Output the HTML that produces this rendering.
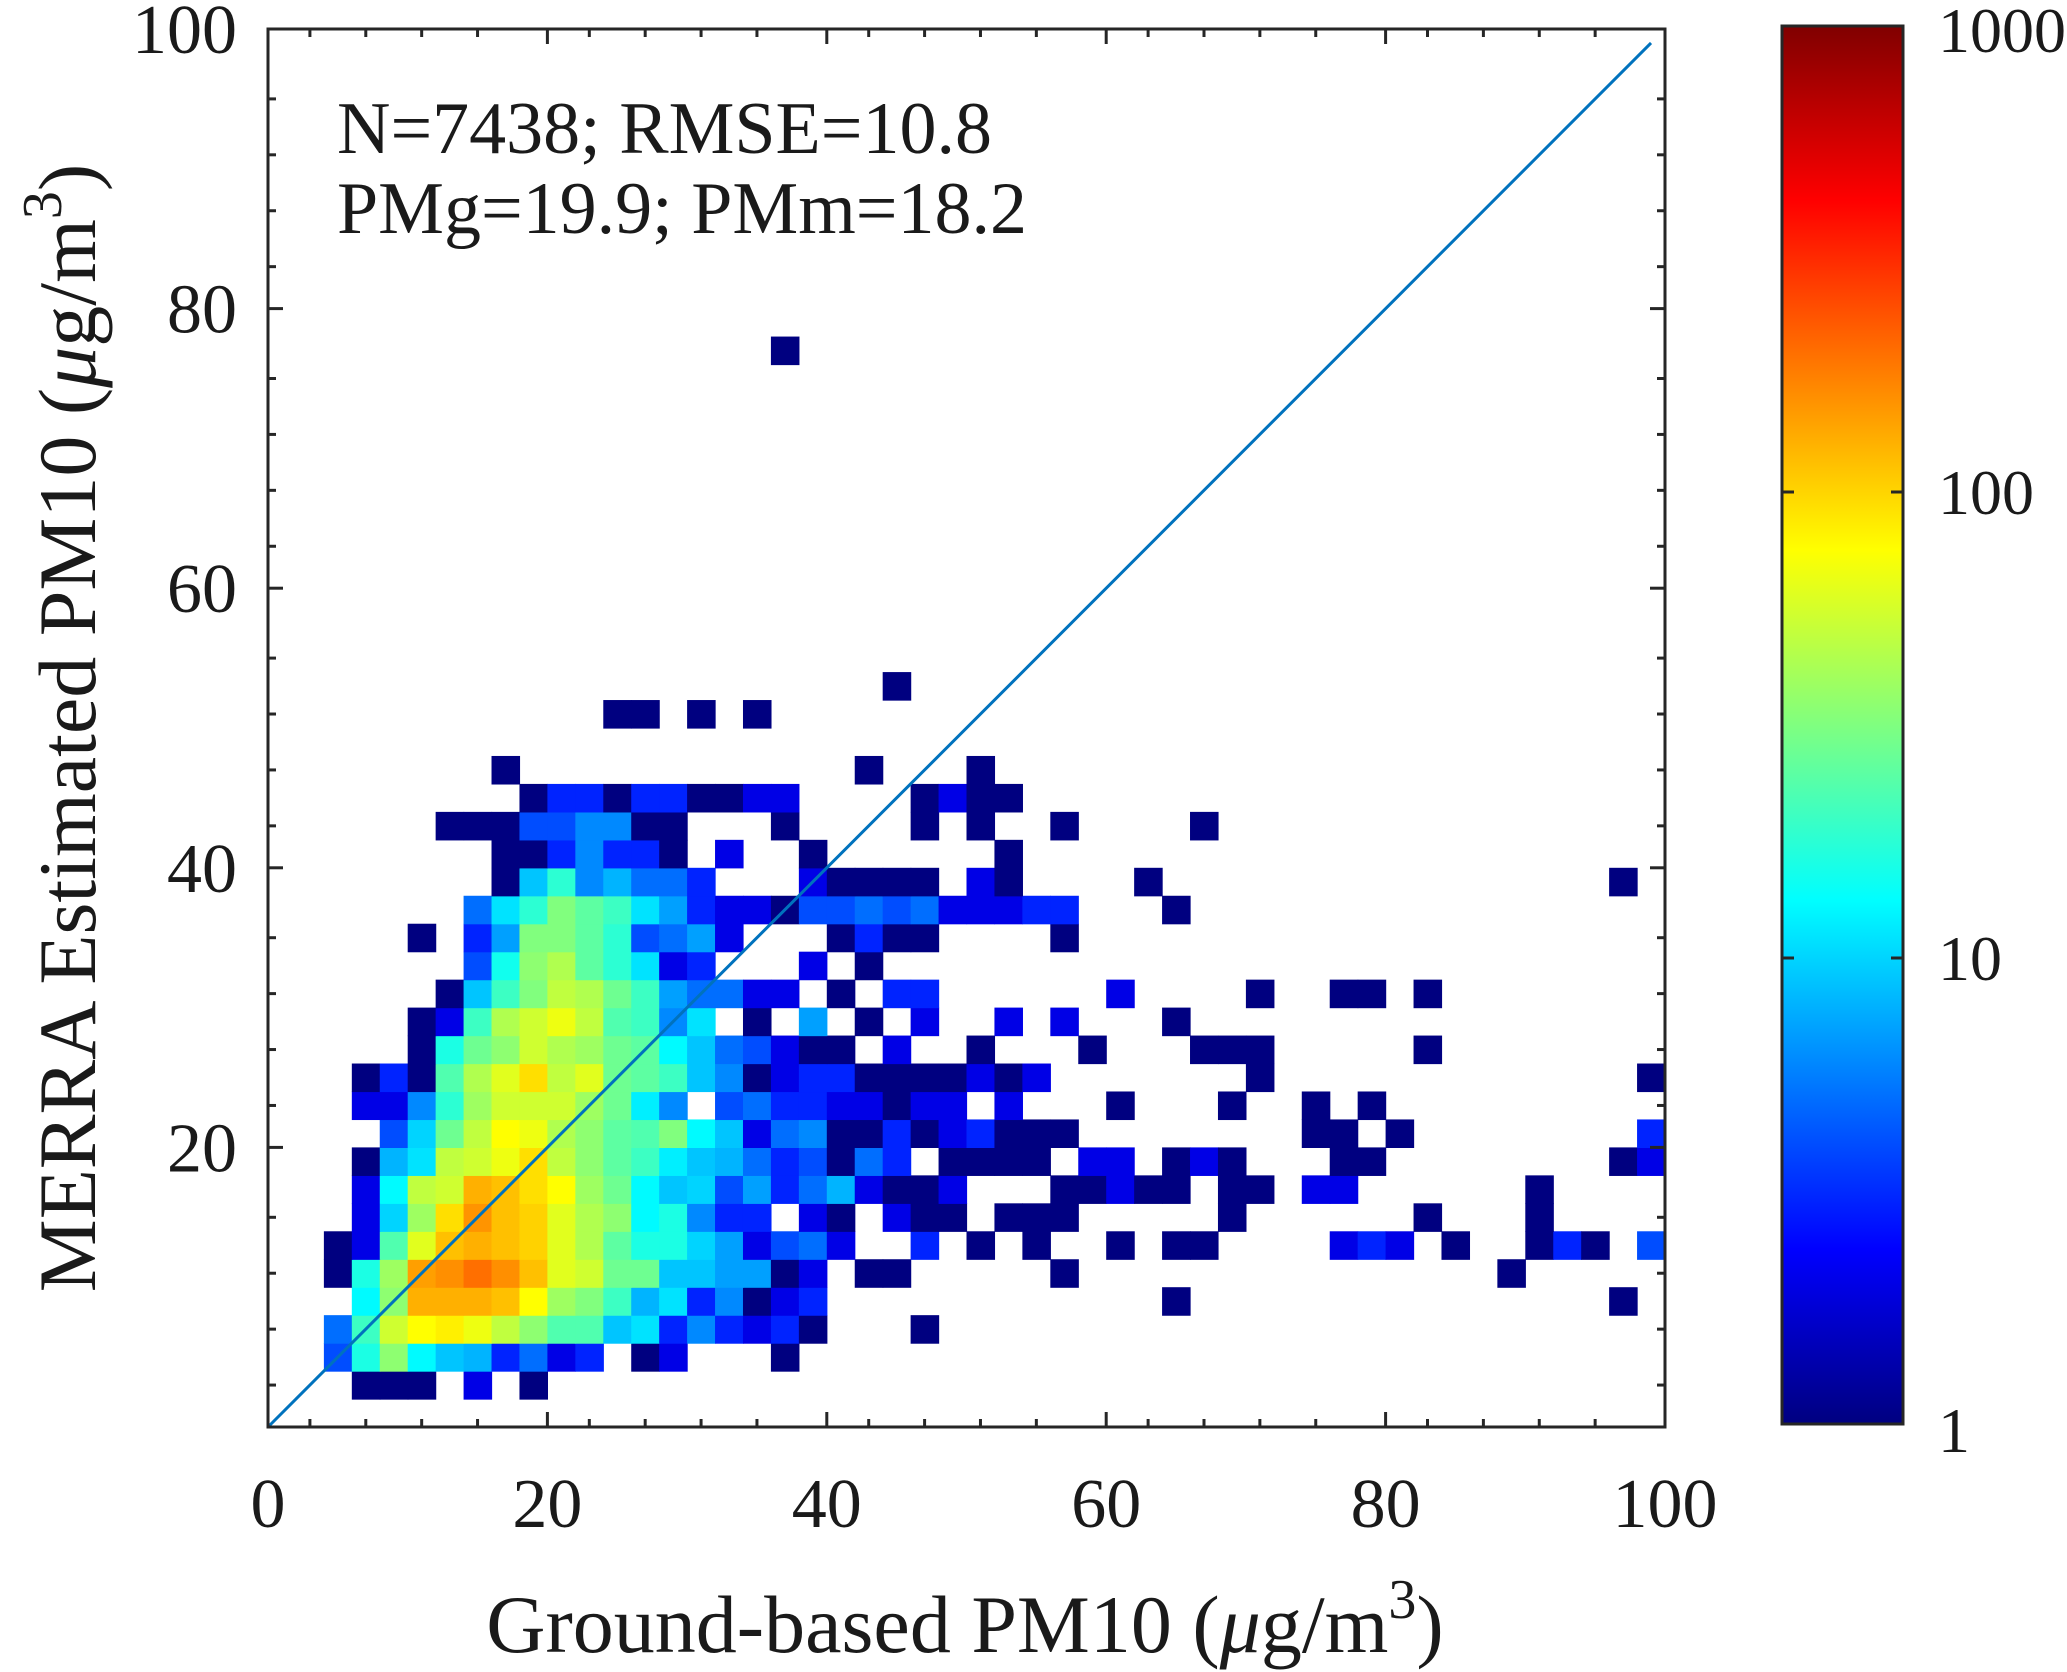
<!DOCTYPE html>
<html><head><meta charset="utf-8"><style>
html,body{margin:0;padding:0;background:#fff;}
svg{display:block;font-family:"Liberation Serif",serif;}
</style></head><body>
<svg id="chart" width="2067" height="1672" viewBox="0 0 2067 1672" xmlns="http://www.w3.org/2000/svg">
<defs>
<linearGradient id="jet" x1="0" y1="1" x2="0" y2="0">
<stop offset="0" stop-color="#000080"/><stop offset="0.125" stop-color="#0000ff"/><stop offset="0.375" stop-color="#00ffff"/><stop offset="0.625" stop-color="#ffff00"/><stop offset="0.875" stop-color="#ff0000"/><stop offset="1" stop-color="#800000"/>
</linearGradient>
</defs>
<rect x="0" y="0" width="2067" height="1672" fill="#fff"/>
<g id="cells"></g>
<line id="diag" stroke="#0072BD" stroke-width="3"/>
<g id="axes"></g>
<text x="337" y="153" font-size="74" fill="#1a1a1a">N=7438; RMSE=10.8</text>
<text x="337" y="233" font-size="74" fill="#1a1a1a">PMg=19.9; PMm=18.2</text>
<text x="965" y="1652" font-size="82" text-anchor="middle" fill="#1a1a1a">Ground-based PM10 (<tspan font-style="italic">μ</tspan>g/m<tspan dy="-34" font-size="56">3</tspan><tspan dy="34">)</tspan></text>
<text transform="translate(95,728) rotate(-90)" font-size="82" text-anchor="middle" fill="#1a1a1a">MERRA Estimated PM10 (<tspan font-style="italic">μ</tspan>g/m<tspan dy="-34" font-size="56">3</tspan><tspan dy="34">)</tspan></text>
<rect x="1782" y="26" width="121" height="1398" fill="url(#jet)" stroke="#262626" stroke-width="3"/>
<g id="cbar"></g>
</svg>
<script>
const rowY = [2,4,6,8,10,12,14,16,18,20,22,24,26,28,30,32,34,36,38,40,42,44,46,50,52,76];
const rowX = [
[6,8,10,14,18],
[4,6,8,10,12,14,16,18,20,22,26,28,36],
[4,6,8,10,12,14,16,18,20,22,24,26,28,30,32,34,36,38,46],
[6,8,10,12,14,16,18,20,22,24,26,28,30,32,34,36,38,64,96],
[4,6,8,10,12,14,16,18,20,22,24,26,28,30,32,34,36,38,42,44,56,88],
[4,6,8,10,12,14,16,18,20,22,24,26,28,30,32,34,36,38,40,46,50,54,60,64,66,76,78,80,84,90,92,94,98],
[6,8,10,12,14,16,18,20,22,24,26,28,30,32,34,38,40,44,46,48,52,54,56,68,82,90],
[6,8,10,12,14,16,18,20,22,24,26,28,30,32,34,36,38,40,42,44,46,48,56,58,60,62,64,68,70,74,76,90],
[6,8,10,12,14,16,18,20,22,24,26,28,30,32,34,36,38,40,42,44,48,50,52,54,58,60,64,66,68,76,78,96,98],
[8,10,12,14,16,18,20,22,24,26,28,30,32,34,36,38,40,42,44,46,48,50,52,54,56,74,76,80,98],
[6,8,10,12,14,16,18,20,22,24,26,28,32,34,36,38,40,42,44,46,48,52,60,68,74,78],
[6,8,10,12,14,16,18,20,22,24,26,28,30,32,34,36,38,40,42,44,46,48,50,52,54,70,98],
[10,12,14,16,18,20,22,24,26,28,30,32,34,36,38,40,44,50,58,66,68,70,82],
[10,12,14,16,18,20,22,24,26,28,30,34,38,42,46,52,56,64],
[12,14,16,18,20,22,24,26,28,30,32,34,36,40,44,46,60,70,76,78,82],
[14,16,18,20,22,24,26,28,30,38,42],
[10,14,16,18,20,22,24,26,28,30,32,40,42,44,46,56],
[14,16,18,20,22,24,26,28,30,32,34,36,38,40,42,44,46,48,50,52,54,56,64],
[16,18,20,22,24,26,28,30,38,40,42,44,46,50,52,62,96],
[16,18,20,22,24,26,28,32,38,52],
[12,14,16,18,20,22,24,26,28,36,46,50,56,66],
[18,20,22,24,26,28,30,32,34,36,46,48,50,52],
[16,42,50],
[24,26,30,34],
[44],
[36]
];
const rowCount = [
[1,1,1,2,1],
[4,16,35,13,9,8,3,5,2,3,1,2,1],
[5,20,54,75,83,67,49,35,23,23,9,11,3,6,3,2,3,1,1],
[13,35,128,128,128,115,75,39,32,20,8,11,3,6,1,2,3,1,1],
[1,16,39,144,160,199,160,115,61,54,28,28,9,9,7,7,1,2,1,1,1,1],
[1,2,23,61,115,128,115,102,61,44,25,16,16,10,7,2,4,5,2,3,1,1,1,1,1,2,3,2,1,1,3,1,4],
[2,10,39,93,155,115,102,61,44,35,13,16,6,3,3,2,1,2,1,1,1,1,1,1,1,1],
[2,13,49,54,128,115,93,75,39,28,13,9,10,4,7,3,5,8,2,1,1,2,1,1,2,1,1,1,1,2,2,1],
[1,8,11,49,54,67,93,49,35,25,20,12,9,8,5,3,4,1,5,3,1,1,1,1,2,2,1,2,1,1,1,1,2],
[4,10,28,49,75,67,44,35,25,23,32,13,9,2,5,6,1,1,3,1,2,3,1,1,1,1,1,1,3],
[2,2,6,18,39,54,54,54,39,28,12,6,4,5,3,3,2,2,1,2,2,2,1,1,1,1],
[1,3,1,23,44,61,93,49,61,28,25,20,9,6,1,2,3,3,1,1,1,1,2,1,2,1,1],
[1,16,28,35,54,44,39,28,25,13,9,5,4,2,1,1,2,1,1,1,1,1,1],
[1,2,20,44,54,67,49,23,20,6,11,1,7,1,2,2,2,1],
[1,9,20,32,49,44,28,20,7,5,5,2,2,1,3,3,2,1,1,1,1],
[4,15,35,44,25,18,11,2,3,2,1],
[1,3,7,32,32,25,18,4,5,7,2,1,3,1,1,1],
[5,11,18,32,25,20,11,7,3,2,2,1,4,4,5,4,5,2,2,2,3,3,1],
[1,9,18,6,8,5,5,3,2,1,1,1,1,2,1,1,1],
[1,1,3,6,3,3,1,2,1,1],
[1,1,1,4,4,6,6,1,1,1,1,1,1,1],
[1,3,3,1,3,3,1,1,2,2,1,2,1,1],
[1,1,1],
[1,1,1,1],
[1],
[1]
];
const axisTicks = [0,20,40,60,80,100];
const axisTickLabels = ["0","20","40","60","80","100"];
const cbarTicks = [1,10,100,1000];
const cbarTickLabels = ["1","10","100","1000"];
const binSize = 2;
const diagEnd = 99;

const NS = "http://www.w3.org/2000/svg";
const X0 = 268, X1 = 1665, Y0 = 1427, Y1 = 29;
function xs(v){ return X0 + (X1 - X0) * v / 100; }
function ys(v){ return Y0 - (Y0 - Y1) * v / 100; }
const CB0 = 1424, CB1 = 26;
function cbs(c){ return CB0 - (CB0 - CB1) * Math.log10(c) / 3; }
function jet(t){
  t = Math.max(0, Math.min(1, t));
  const f = (a)=>Math.max(0, Math.min(1, a));
  const r = f(Math.min(4*t - 1.5, -4*t + 4.5));
  const g = f(Math.min(4*t - 0.5, -4*t + 3.5));
  const b = f(Math.min(4*t + 0.5, -4*t + 2.5));
  return "rgb(" + Math.round(r*255) + "," + Math.round(g*255) + "," + Math.round(b*255) + ")";
}
function mk(tag, attrs, parent){
  const el = document.createElementNS(NS, tag);
  for (const k in attrs) el.setAttribute(k, attrs[k]);
  parent.appendChild(el);
  return el;
}
const cells = document.getElementById("cells");
for (let r = 0; r < rowY.length; r++) {
  for (let i = 0; i < rowX[r].length; i++) {
    const x = rowX[r][i], y = rowY[r], c = rowCount[r][i];
    const el = mk("rect", {
      x: xs(x), y: ys(y + binSize),
      width: xs(x + binSize) - xs(x) + 0.6, height: ys(y) - ys(y + binSize) + 0.6,
      fill: jet(Math.log10(c) / 3)
    }, cells);
    
    
  }
}
const diag = document.getElementById("diag");
diag.setAttribute("x1", xs(0)); diag.setAttribute("y1", ys(0));
diag.setAttribute("x2", xs(diagEnd)); diag.setAttribute("y2", ys(diagEnd));

const axes = document.getElementById("axes");
const frame = mk("rect", {x: X0, y: Y1, width: X1 - X0, height: Y0 - Y1, fill: "none", stroke: "#262626", "stroke-width": 3}, axes);


const minorOffsets = [3,7,11,15];
for (let k = 0; k < axisTicks.length; k++) {
  const v = axisTicks[k];
  const tk = [[xs(v), Y0, xs(v), Y0 - 15], [xs(v), Y1, xs(v), Y1 + 15], [X0, ys(v), X0 + 15, ys(v)], [X1, ys(v), X1 - 15, ys(v)]];
  tk.forEach(t => {
    const ln = mk("line", {x1: t[0], y1: t[1], x2: t[2], y2: t[3], stroke: "#262626", "stroke-width": 3}, axes);
    
    
  });
  if (v < 100) {
    minorOffsets.forEach(o => {
      const m = v + o;
      const mt = [[xs(m), Y0, xs(m), Y0 - 8], [xs(m), Y1, xs(m), Y1 + 8], [X0, ys(m), X0 + 8, ys(m)], [X1, ys(m), X1 - 8, ys(m)]];
      mt.forEach(t => {
        const ln = mk("line", {x1: t[0], y1: t[1], x2: t[2], y2: t[3], stroke: "#262626", "stroke-width": 3}, axes);
        
        
      });
    });
  }
  const xl = mk("text", {x: xs(v), y: 1527, "font-size": 70, "text-anchor": "middle", fill: "#1a1a1a"}, axes);
  xl.textContent = axisTickLabels[k];
  
  
  if (v > 0) {
    const yl = mk("text", {x: 237, y: ys(v) + 24, "font-size": 70, "text-anchor": "end", fill: "#1a1a1a"}, axes);
    yl.textContent = axisTickLabels[k];
    
    
  }
}
const cbar = document.getElementById("cbar");
for (let k = 0; k < cbarTicks.length; k++) {
  const yy = cbs(cbarTicks[k]);
  if (k > 0 && k < cbarTicks.length - 1) {
    const a = mk("line", {x1: 1903, y1: yy, x2: 1891, y2: yy, stroke: "#262626", "stroke-width": 3}, cbar);
    
    
    const b = mk("line", {x1: 1782, y1: yy, x2: 1794, y2: yy, stroke: "#262626", "stroke-width": 3}, cbar);
    
    
  }
  let ty = yy + 22;
  if (k === cbarTicks.length - 1) ty = 52;
  if (k === 0) ty = 1452;
  const t = mk("text", {x: 1938, y: ty, "font-size": 64, fill: "#1a1a1a"}, cbar);
  t.textContent = cbarTickLabels[k];
  
  
}
</script>
</body></html>
